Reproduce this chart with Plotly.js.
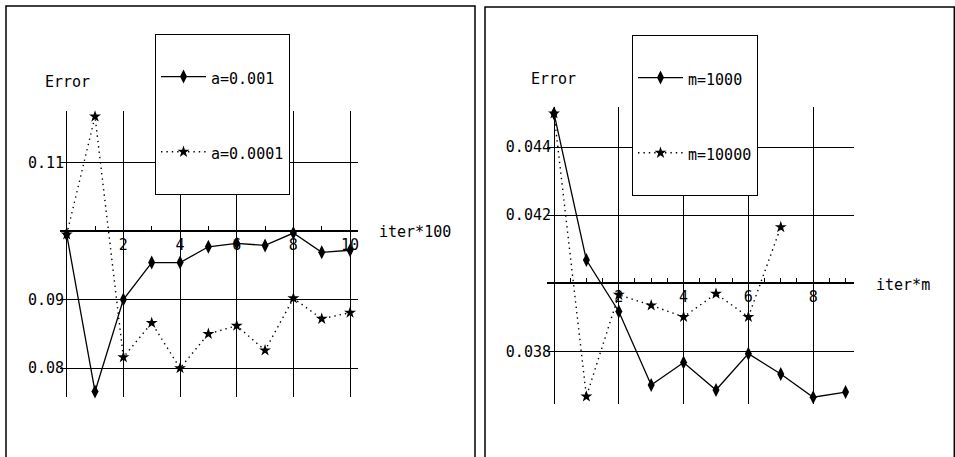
<!DOCTYPE html>
<html><head><meta charset="utf-8">
<script src="https://cdn.plot.ly/plotly-3.0.1.min.js"></script>
<style>html,body{margin:0;padding:0;background:#fff}#chart{width:955px;height:457px}</style>
</head><body><div id="chart"></div>
<script>
// ---- data ----
const iterA = [0,1,2,3,4,5,6,7,8,9,10];
const errA001 = [0.0995,0.0766,0.0900,0.0954,0.0954,0.0977,0.0982,0.0979,0.0997,0.0969,0.0972];
const errA0001 = [0.0995,0.1167,0.0816,0.0866,0.0800,0.0850,0.0862,0.0826,0.0902,0.0872,0.0881];
const iterM1000 = [0,1,2,3,4,5,6,7,8,9];
const errM1000 = [0.04499,0.04068,0.03917,0.03701,0.03767,0.03686,0.03793,0.03733,0.03665,0.03680];
const iterM10000 = [0,1,2,3,4,5,6,7];
const errM10000 = [0.04499,0.03667,0.03966,0.03935,0.03901,0.03969,0.03901,0.04165];
const nameA001 = 'a=0.001', nameA0001 = 'a=0.0001';
const nameM1000 = 'm=1000', nameM10000 = 'm=10000';
const leftXTicks = [0,2,4,6,8,10], leftXText = ['','2','4','6','8','10'];
const leftYTicks = [0.08,0.09,0.10,0.11], leftYText = ['0.08','0.09','','0.11'];
const rightXTicks = [0,2,4,6,8], rightXText = ['','2','4','6','8'];
const rightYTicks = [0.038,0.040,0.042,0.044], rightYText = ['0.038','','0.042','0.044'];
const yLabel = 'Error', xLabelLeft = 'iter*100', xLabelRight = 'iter*m';

// ---- layout helpers ----
const W = 955, H = 457;
const FONT = 'DejaVu Sans Mono';
const px = v => v / W, py = v => (H - v) / H;
const lName = n => '<br>' + '<span style="font-size:15px">' + n + '</span><br> ';

const leftYRange = [0.0758, 0.1175], rightYRange = [0.03645, 0.04518];
const leftYDom = [py(397), py(111)], rightYDom = [py(404), py(107)];
const axisPos = (dom, rng, v) => dom[0] + (v - rng[0]) / (rng[1] - rng[0]) * (dom[1] - dom[0]);

const solid = {color:'#000', width:1.3};
const dotted = {color:'#000', width:1.4, dash:'1.4px,4px'};
const dia = {symbol:'diamond-tall', size:10, color:'#000'};
const star = {symbol:'star', size:9, color:'#000'};

const traces = [
  {x:iterA, y:errA001, name:lName(nameA001), mode:'lines+markers', line:solid, marker:dia, xaxis:'x', yaxis:'y', legend:'legend', cliponaxis:false, legendgroup:'a1'},
  {x:iterA, y:errA0001, name:lName(nameA0001), mode:'lines+markers', line:dotted, marker:star, xaxis:'x', yaxis:'y', legend:'legend', cliponaxis:false, legendgroup:'a2'},
  {x:iterM1000, y:errM1000, name:lName(nameM1000), mode:'lines+markers', line:solid, marker:dia, xaxis:'x2', yaxis:'y2', legend:'legend2', cliponaxis:false, legendgroup:'m1'},
  {x:iterM10000, y:errM10000, name:lName(nameM10000), mode:'lines+markers', line:dotted, marker:star, xaxis:'x2', yaxis:'y2', legend:'legend2', cliponaxis:false, legendgroup:'m2'}
];

const tf = {family:FONT, size:15, color:'#000'};
const gridBase = {showgrid:true, gridcolor:'#000', gridwidth:1, zeroline:false, ticks:'', tickfont:tf, fixedrange:true, tickmode:'array'};
const minorX = d => ({dtick:d, tick0:0, ticks:'inside', ticklen:4, tickcolor:'#000', tickwidth:1, showgrid:false});

const legBase = {bgcolor:'#fff', bordercolor:'#000', borderwidth:1, font:{family:FONT, size:18, color:'#000'},
  xanchor:'left', yanchor:'top', valign:'middle', itemwidth:45, tracegroupgap:2, traceorder:'grouped', itemclick:false, itemdoubleclick:false};

const layout = {
  width:W, height:H, margin:{l:0,r:0,t:0,b:0}, paper_bgcolor:'#fff', plot_bgcolor:'rgba(0,0,0,0)',
  font:tf, showlegend:true,
  xaxis: Object.assign({}, gridBase, {domain:[px(60), px(358)], range:[-0.236, 10.28], tickvals:leftXTicks, ticktext:leftXText,
    anchor:'free', position:axisPos(leftYDom, leftYRange, 0.10), showline:true, linecolor:'#000', linewidth:2, minor:minorX(1)}),
  yaxis: Object.assign({}, gridBase, {domain:leftYDom, range:leftYRange, tickvals:leftYTicks, ticktext:leftYText, anchor:'x', showline:false, ticklabelstandoff:-5}),
  xaxis2: Object.assign({}, gridBase, {domain:[px(547), px(854)], range:[-0.216, 9.26], tickvals:rightXTicks, ticktext:rightXText,
    anchor:'free', position:axisPos(rightYDom, rightYRange, 0.040), showline:true, linecolor:'#000', linewidth:2, minor:minorX(0.5)}),
  yaxis2: Object.assign({}, gridBase, {domain:rightYDom, range:rightYRange, tickvals:rightYTicks, ticktext:rightYText, anchor:'x2', showline:false, ticklabelstandoff:-5}),
  legend: Object.assign({}, legBase, {x:px(155), y:py(34)}),
  legend2: Object.assign({}, legBase, {x:px(632), y:py(35)}),
  annotations:[
    {text:yLabel, x:px(67), y:py(82), xref:'paper', yref:'paper', showarrow:false, font:tf, xanchor:'center', yanchor:'middle'},
    {text:xLabelLeft, x:px(377), y:py(232), xref:'paper', yref:'paper', showarrow:false, font:tf, xanchor:'left', yanchor:'middle'},
    {text:yLabel, x:px(553), y:py(79), xref:'paper', yref:'paper', showarrow:false, font:tf, xanchor:'center', yanchor:'middle'},
    {text:xLabelRight, x:px(874), y:py(285), xref:'paper', yref:'paper', showarrow:false, font:tf, xanchor:'left', yanchor:'middle'}
  ],
  shapes:[
    {type:'rect', xref:'paper', yref:'paper', x0:px(6), x1:px(475), y0:-0.05, y1:py(6), line:{color:'#000', width:1.5}},
    {type:'rect', xref:'paper', yref:'paper', x0:px(485), x1:px(954.3), y0:-0.05, y1:py(7), line:{color:'#000', width:1.5}}
  ]
};

Plotly.newPlot('chart', traces, layout, {staticPlot:true, displayModeBar:false});
</script>
</body></html>
